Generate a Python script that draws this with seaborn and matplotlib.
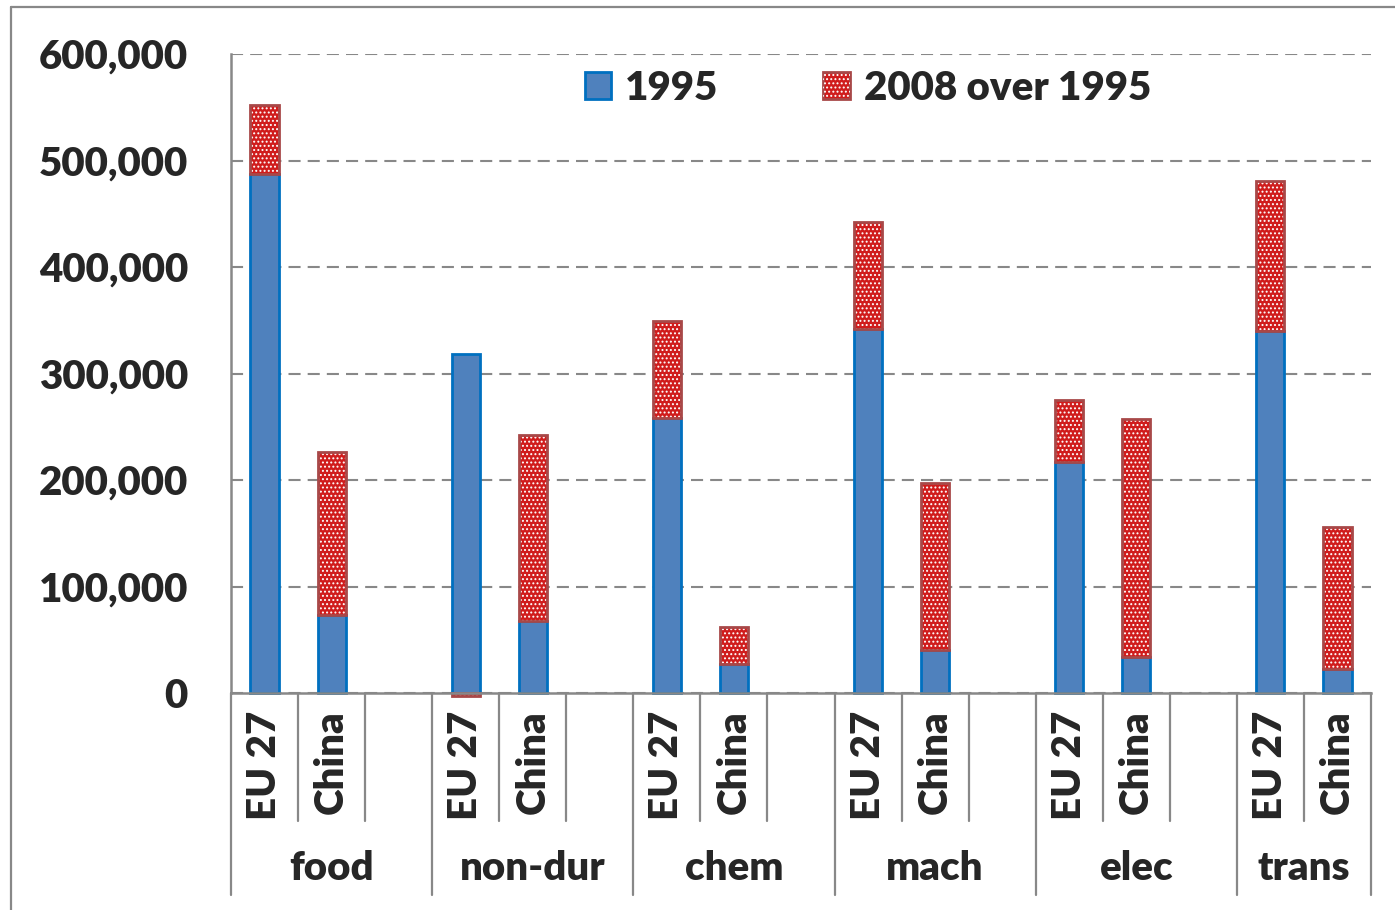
import numpy as np
import pandas as pd
import matplotlib
matplotlib.use("Agg")
import matplotlib.pyplot as plt
import seaborn as sns
from matplotlib.lines import Line2D
from matplotlib.patches import Patch
from matplotlib.legend_handler import HandlerTuple
from matplotlib.ticker import FuncFormatter

# data
categories = ["food", "non-dur", "chem", "mach", "elec", "trans"]
regions = ["EU 27", "China"]
v1995_eu = [487000, 318000, 258000, 342000, 217000, 340000]
v1995_cn = [73000, 68000, 27000, 40000, 34000, 22500]
growth_eu = [65000, -3000, 91000, 100000, 58000, 141000]
growth_cn = [153000, 174000, 35000, 157000, 223000, 133000]
yticks = [0, 100000, 200000, 300000, 400000, 500000, 600000]

BLUE = "#4f81bd"
BLUE_EDGE = "#0070c0"
RED = "#d01c1c"
RED_EDGE = "#a84848"
GREY = "#888888"
WEIGHT = "heavy"

sns.set_style("white")
plt.rcParams["font.family"] = ["Lato", "DejaVu Sans"]
plt.rcParams["font.weight"] = WEIGHT
plt.rcParams["hatch.linewidth"] = 0.9

# slots: EU 27, China and a blank gap per category (no gap after the last one)
order = []
rows = []
for i, cat in enumerate(categories):
    for reg, base, grow in [("EU 27", v1995_eu[i], growth_eu[i]),
                            ("China", v1995_cn[i], growth_cn[i])]:
        slot = f"{cat}|{reg}"
        order.append(slot)
        rows.append({"slot": slot, "category": cat, "region": reg,
                     "v1995": base, "growth": grow})
    if i < len(categories) - 1:
        order.append(f"{cat}|")
df = pd.DataFrame(rows)
# negative increments stack downward from zero, like Excel does
df["bottom"] = np.where(df["growth"] > 0, df["v1995"], 0)

fig = plt.figure(figsize=(13.95, 9.1), dpi=100)
ax = fig.add_axes([231 / 1395, 1 - 693 / 910, 1140 / 1395, 639 / 910])

common = dict(data=df, x="slot", order=order, width=0.42, errorbar=None,
              saturation=1, ax=ax, clip_on=False)
sns.barplot(y="v1995", color=BLUE, edgecolor=BLUE_EDGE, linewidth=2, zorder=3, **common)
sns.barplot(y="growth", bottom=df["bottom"].values, color=RED, linewidth=0, zorder=3, **common)
sns.barplot(y="growth", bottom=df["bottom"].values, color=RED, facecolor="none",
            edgecolor="white", hatch="....", linewidth=0, zorder=3.1, **common)
sns.barplot(y="growth", bottom=df["bottom"].values, color=RED, facecolor="none",
            edgecolor=RED_EDGE, linewidth=2, zorder=3.2, **common)

ax.set_xlim(-0.5, len(order) - 0.5)
ax.set_ylim(0, 600000)
ax.set_yticks(yticks)
ax.yaxis.set_major_formatter(FuncFormatter(lambda v, p: f"{v:,.0f}"))
ax.tick_params(axis="y", labelsize=29, length=10, width=1.8, color=GREY, pad=21)
ax.tick_params(axis="x", length=0, labelbottom=False)
ax.set_xlabel("")
ax.set_ylabel("")
ax.yaxis.grid(True, color=GREY, linewidth=1.5, linestyle=(0, (5.8, 3.4)))
ax.set_axisbelow(True)
for side in ["top", "right"]:
    ax.spines[side].set_visible(False)
for side in ["left", "bottom"]:
    ax.spines[side].set_color(GREY)
    ax.spines[side].set_linewidth(1.8)
ax.spines["bottom"].set_zorder(4)

# two-level category axis
trans = ax.get_xaxis_transform()
for k, slot in enumerate(order):
    cat, reg = slot.split("|")
    if reg:
        ax.text(k, -0.027, reg, rotation=90, ha="center", va="top",
                fontsize=29, fontweight=WEIGHT, transform=trans)
group_edges = [-0.5]
for k, slot in enumerate(order):
    if slot.endswith("|"):
        group_edges.append(k + 0.5)
group_edges.append(len(order) - 0.5)
for k in range(len(order) + 1):
    x = k - 0.5
    y_end = -0.316 if x in group_edges else -0.2
    ax.add_line(Line2D([x, x], [0, y_end], transform=trans, color=GREY,
                       linewidth=1.6, clip_on=False))
for i, cat in enumerate(categories):
    left, right = group_edges[i], group_edges[i + 1]
    ax.text((left + right) / 2, -0.274, cat, ha="center", va="center",
            fontsize=29, fontweight=WEIGHT, transform=trans)

# legend
h1 = Patch(facecolor=BLUE, edgecolor=BLUE_EDGE, linewidth=2)
h2 = (Patch(facecolor=RED, edgecolor=RED_EDGE, linewidth=2),
      Patch(facecolor="none", edgecolor="white", hatch="....", linewidth=0))
fig.legend([h1, h2], ["1995", "2008 over 1995"], loc="center",
           bbox_to_anchor=(868 / 1395, 1 - 88 / 910), ncol=2, frameon=False,
           prop={"size": 29, "weight": WEIGHT},
           handlelength=0.65, handleheight=0.65, handletextpad=0.36,
           columnspacing=2.6, handler_map={tuple: HandlerTuple(ndivide=1)})

# outer chart border (only top and left are inside the image)
fig.add_artist(Line2D([11 / 1395, 1], [1 - 7 / 910, 1 - 7 / 910], color=GREY, linewidth=1.6))
fig.add_artist(Line2D([11 / 1395, 11 / 1395], [0, 1 - 7 / 910], color=GREY, linewidth=1.6))

fig.savefig("out.png", dpi=100)
